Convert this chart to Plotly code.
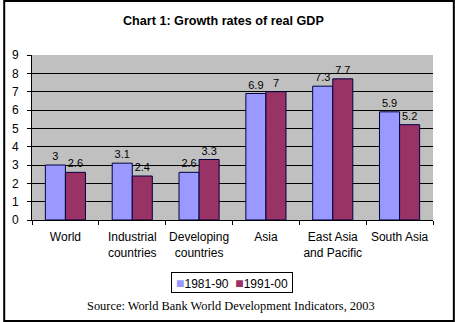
import plotly.graph_objects as go

categories = ["World", "Industrial<br>countries", "Developing<br>countries", "Asia", "East Asia<br>and Pacific", "South Asia"]
series_names = ["1981-90", "1991-00"]
series_1981 = [3, 3.1, 2.6, 6.9, 7.3, 5.9]
series_1991 = [2.6, 2.4, 3.3, 7, 7.7, 5.2]
text_1981 = ["3", "3.1", "2.6", "6.9", "7.3", "5.9"]
text_1991 = ["2.6", "2.4", "3.3", "7", "7.7", "5.2"]
ytick_vals = list(range(0, 10))
colors = ["#9999FF", "#993366"]

W, H = 455, 322
L, R, T, B = 29, 22, 55, 102
pw, ph = W - L - R, H - T - B

fig = go.Figure()
for name, vals, txt, col in [(series_names[0], series_1981, text_1981, colors[0]),
                             (series_names[1], series_1991, text_1991, colors[1])]:
    fig.add_trace(go.Bar(x=categories, y=vals, name=name,
                         marker=dict(color=col, line=dict(color="#000040", width=1)),
                         text=txt, textposition="outside", cliponaxis=False,
                         textfont=dict(color="black", size=11, family="Liberation Sans, Arial")))

fig.update_layout(
    width=W, height=H,
    margin=dict(l=L, r=R, t=T, b=B),
    paper_bgcolor="white", plot_bgcolor="#C0C0C0",
    barmode="group", bargap=0.4, bargroupgap=0,
    font=dict(family="Liberation Sans, Arial", size=11, color="black"),
    showlegend=False,
)
fig.update_yaxes(range=[0, 9], tickvals=ytick_vals, showgrid=True, gridcolor="black", gridwidth=1,
                 showline=True, linecolor="black", linewidth=1, ticks="outside", ticklen=4,
                 tickcolor="black", zeroline=False, tickfont=dict(size=12), ticklabelstandoff=6,
                 fixedrange=True)
fig.update_xaxes(showline=True, linecolor="black", linewidth=1, ticks="outside", ticklen=4,
                 tickson="boundaries", tickcolor="black", tickfont=dict(size=12), showgrid=False,
                 ticklabelstandoff=6, tickangle=0)

fig.add_annotation(text="<b>Chart 1: Growth rates of real GDP</b>", xref="paper", yref="paper",
                   x=(222 - L) / pw, y=1 + (T - 21) / ph, xanchor="center", yanchor="middle",
                   showarrow=False, font=dict(size=12.6, family="Liberation Sans, Arial"))

# legend box (text legend)
legend_text = "&nbsp;&nbsp;".join(f'<span style="color:{c};font-size:14px">■</span>{n}' for c, n in zip(colors, series_names))
fig.add_annotation(text=legend_text, xref="paper", yref="paper",
                   x=(230.5 - L) / pw, y=-(282.5 - T - ph) / ph, xanchor="center", yanchor="middle",
                   showarrow=False, bordercolor="black", borderwidth=1, borderpad=3, bgcolor="white",
                   width=114, height=13,
                   font=dict(size=12, family="Liberation Sans, Arial", color="black"))

fig.add_annotation(text="Source: World Bank World Development Indicators, 2003", xref="paper", yref="paper",
                   x=(229 - L) / pw, y=-(306 - T - ph) / ph, xanchor="center", yanchor="middle",
                   showarrow=False, font=dict(size=12.4, family="Liberation Serif, Times New Roman"))
# outer frame
fig.add_shape(type="rect", xref="paper", yref="paper",
              x0=-(L - 1) / pw, x1=1 + (R - 1) / pw, y0=-(B - 1) / ph, y1=1 + (T - 1) / ph,
              line=dict(color="black", width=2), layer="above")

fig.write_html("out.html")
